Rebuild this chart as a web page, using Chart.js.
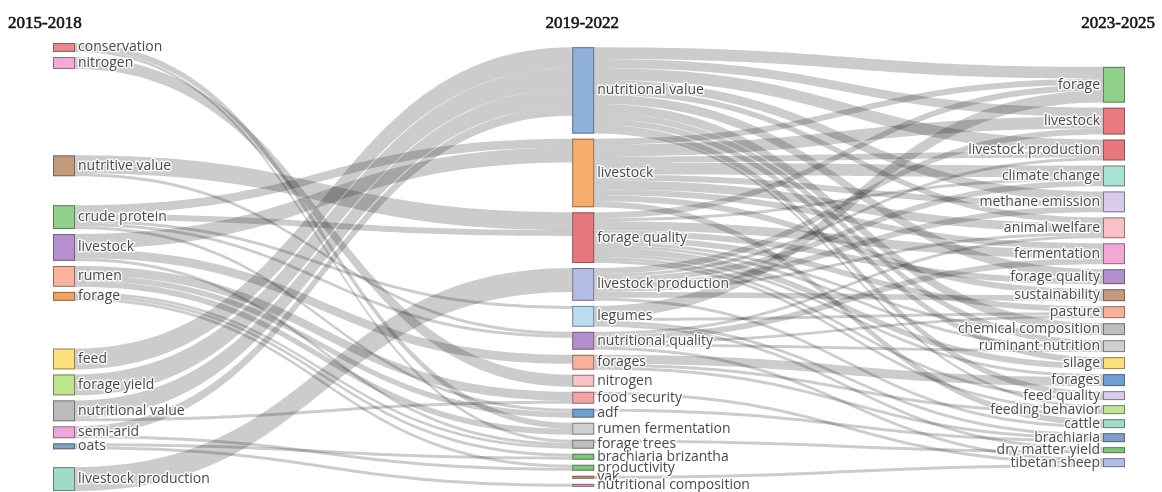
<!DOCTYPE html>
<html>
<head>
<meta charset="utf-8">
<script src="https://cdn.jsdelivr.net/npm/chart.js@4"></script>
<style>
  body { margin: 0; background: #fff; }
  #wrap { width: 1162px; height: 492px; }
</style>
</head>
<body>
<div id="wrap"><canvas id="c" width="1162" height="492"></canvas></div>
<script>
// periods (column headers)
const periods = ['2015-2018', '2019-2022', '2023-2025'];

// keywords per period, top to bottom
const nodes2015 = ['conservation', 'nitrogen', 'nutritive value', 'crude protein', 'livestock', 'rumen', 'forage',
  'feed', 'forage yield', 'nutritional value', 'semi-arid', 'oats', 'livestock production'];
const nodes2019 = ['nutritional value', 'livestock', 'forage quality', 'livestock production', 'legumes',
  'nutritional quality', 'forages', 'nitrogen', 'food security', 'adf', 'rumen fermentation', 'forage trees',
  'brachiaria brizantha', 'productivity', 'yak', 'nutritional composition'];
const nodes2023 = ['forage', 'livestock', 'livestock production', 'climate change', 'methane emission',
  'animal welfare', 'fermentation', 'forage quality', 'sustainability', 'pasture', 'chemical composition',
  'ruminant nutrition', 'silage', 'forages', 'feed quality', 'feeding behavior', 'cattle', 'brachiaria',
  'dry matter yield', 'tibetan sheep'];

// flows 2015-2018 -> 2019-2022  [from, to, value]
const flowsA = [
  ['conservation', 'rumen fermentation', 2], ['conservation', 'forage trees', 1],
  ['nitrogen', 'nitrogen', 4],
  ['nutritive value', 'forage quality', 6], ['nutritive value', 'nutritional quality', 1],
  ['crude protein', 'livestock', 3], ['crude protein', 'forage quality', 2], ['crude protein', 'nutritional quality', 1],
  ['crude protein', 'legumes', 1], ['crude protein', 'adf', 1],
  ['livestock', 'livestock', 5], ['livestock', 'forages', 3], ['livestock', 'forage trees', 1],
  ['rumen', 'rumen fermentation', 2], ['rumen', 'adf', 2], ['rumen', 'food security', 3],
  ['forage', 'brachiaria brizantha', 1], ['forage', 'productivity', 1], ['forage', 'forage trees', 1],
  ['feed', 'nutritional value', 7],
  ['forage yield', 'nutritional value', 7],
  ['nutritional value', 'nutritional value', 6], ['nutritional value', 'food security', 1],
  ['semi-arid', 'nutritional value', 3], ['semi-arid', 'productivity', 1],
  ['oats', 'brachiaria brizantha', 1], ['oats', 'nutritional composition', 1],
  ['livestock production', 'livestock production', 8]
];

// flows 2019-2022 -> 2023-2025
const flowsB = [
  ['nutritional value', 'forage', 4], ['nutritional value', 'livestock', 3], ['nutritional value', 'livestock production', 4],
  ['nutritional value', 'methane emission', 3], ['nutritional value', 'animal welfare', 2], ['nutritional value', 'forage quality', 3],
  ['nutritional value', 'chemical composition', 3], ['nutritional value', 'ruminant nutrition', 2], ['nutritional value', 'silage', 2],
  ['nutritional value', 'feed quality', 2], ['nutritional value', 'feeding behavior', 1],
  ['livestock', 'forage', 2], ['livestock', 'livestock', 4], ['livestock', 'livestock production', 2], ['livestock', 'climate change', 4],
  ['livestock', 'methane emission', 2], ['livestock', 'animal welfare', 3], ['livestock', 'fermentation', 2],
  ['livestock', 'sustainability', 2], ['livestock', 'cattle', 2],
  ['forage quality', 'forage', 2], ['forage quality', 'climate change', 1], ['forage quality', 'fermentation', 3],
  ['forage quality', 'forage quality', 2], ['forage quality', 'pasture', 2], ['forage quality', 'silage', 2],
  ['forage quality', 'forages', 1], ['forage quality', 'feed quality', 1], ['forage quality', 'feeding behavior', 1],
  ['forage quality', 'chemical composition', 1], ['forage quality', 'ruminant nutrition', 1],
  ['livestock production', 'livestock', 2], ['livestock production', 'livestock production', 1], ['livestock production', 'climate change', 2],
  ['livestock production', 'methane emission', 2], ['livestock production', 'sustainability', 2], ['livestock production', 'cattle', 1],
  ['livestock production', 'animal welfare', 1],
  ['legumes', 'forage', 4], ['legumes', 'pasture', 1], ['legumes', 'dry matter yield', 1], ['legumes', 'brachiaria', 1],
  ['nutritional quality', 'animal welfare', 1], ['nutritional quality', 'fermentation', 2], ['nutritional quality', 'ruminant nutrition', 1],
  ['nutritional quality', 'pasture', 1], ['nutritional quality', 'tibetan sheep', 1],
  ['forages', 'forages', 3], ['forages', 'feeding behavior', 1], ['forages', 'brachiaria', 1],
  ['food security', 'tibetan sheep', 1],
  ['adf', 'brachiaria', 1],
  ['forage trees', 'dry matter yield', 1],
  ['yak', 'tibetan sheep', 1]
];

// styling / layout
const colors2015 = ['#e8898e', '#f5a9d6', '#c39a7c', '#8fd18b', '#b68fd0', '#f9b29b', '#f7a15a', '#fde07c', '#bde68c',
  '#bcbcbc', '#f0a6d8', '#7f9fc9', '#9fdbc7'];
const colors2019 = ['#8fb0d9', '#f9ad6d', '#e8777c', '#b3bde6', '#bcdcf2', '#b48fd0', '#f9b09a', '#f9c2c6', '#f4a4a4',
  '#6f9fd2', '#d0d0d0', '#bdbdbd', '#7dc67a', '#7dc67a', '#c49a7e', '#e89ad0'];
const colors2023 = ['#8fd18b', '#ea7a80', '#e8777c', '#a9e1d3', '#d9cbec', '#fbc0c5', '#f4a6d7', '#b48fd0', '#c49a7e',
  '#f9b09a', '#bdbdbd', '#d0d0d0', '#fde07c', '#6f9fd2', '#d9cbec', '#c3e59a', '#9fdbc7', '#7f9fc9', '#7dc67a', '#b3bde6'];
const leftSpacing = [0, 0, 27.3, 8, 0, 0, 0, 14.3, 0, 0, 0, 0, 4.3]; // extra room above left nodes
const colX = [0, 0.989, 2];
const nodePad = 1.7;
const nodeW = 22;

// build nodes
const cols = [nodes2015, nodes2019, nodes2023].map((names, c) =>
  names.map((name, i) => ({ name, col: c, inV: 0, outV: 0, ins: [], outs: [],
    color: [colors2015, colors2019, colors2023][c][i] })));
const find = (c, name) => cols[c].find(n => n.name === name);
const links = [];
[flowsA, flowsB].forEach((fl, c) => fl.forEach(([s, t, v]) => {
  const l = { source: find(c, s), target: find(c + 1, t), value: v };
  l.source.outV += v; l.target.inV += v;
  l.source.outs.push(l); l.target.ins.push(l);
  links.push(l);
}));
cols.forEach(col => col.forEach(n => { n.value = Math.max(n.inV, n.outV); }));

// stack each column, left column with its own spacing, others centred
const spans = cols.map((col, c) => col.reduce((s, n, i) =>
  s + n.value + (i ? nodePad : 0) + (c === 0 ? leftSpacing[i] : 0), 0));
const yMax = Math.max(...spans);
cols.forEach((col, c) => {
  let y = c === 0 ? 0 : (yMax - spans[c]) / 2;
  col.forEach((n, i) => {
    if (i) y += nodePad;
    if (c === 0) y += leftSpacing[i];
    n.y0 = y; n.y1 = y + n.value; y = n.y1;
  });
});
cols.forEach(col => col.forEach(n => {
  let y = n.y0;
  n.outs.sort((a, b) => a.target.y0 - b.target.y0).forEach(l => { l.sy = y; y += l.value; });
  y = n.y0;
  n.ins.sort((a, b) => a.source.y0 - b.source.y0).forEach(l => { l.ty = y; y += l.value; });
}));

const sankeyPlugin = {
  id: 'sankeyDraw',
  afterDraw(chart) {
    const { ctx } = chart;
    const xs = chart.scales.x, ys = chart.scales.y;
    const py = v => ys.getPixelForValue(v);
    const cx = c => xs.getPixelForValue(colX[c]);
    ctx.save();
    // links
    ctx.fillStyle = 'rgba(0,0,0,0.2)';
    links.forEach(l => {
      const x0 = cx(l.source.col) + nodeW / 2;
      const x1 = cx(l.target.col) - nodeW / 2;
      const xm = (x0 + x1) / 2;
      const a0 = py(l.sy), a1 = py(l.sy + l.value), b0 = py(l.ty), b1 = py(l.ty + l.value);
      ctx.beginPath();
      ctx.moveTo(x0, a0);
      ctx.bezierCurveTo(xm, a0, xm, b0, x1, b0);
      ctx.lineTo(x1, b1);
      ctx.bezierCurveTo(xm, b1, xm, a1, x0, a1);
      ctx.closePath();
      ctx.fill();
    });
    // nodes
    cols.forEach(col => col.forEach(n => {
      const x = cx(n.col) - nodeW / 2;
      const top = py(n.y0), h = py(n.y1) - top;
      ctx.fillStyle = n.color;
      ctx.fillRect(x, top, nodeW, h);
      ctx.strokeStyle = 'rgba(68,68,68,0.6)';
      ctx.lineWidth = 1;
      ctx.strokeRect(x + 0.5, top + 0.5, nodeW - 1, Math.max(h - 1, 0.5));
    }));
    // labels
    ctx.font = '14px "Open Sans", sans-serif';
    ctx.textBaseline = 'middle';
    ctx.lineJoin = 'round';
    cols.forEach(col => col.forEach(n => {
      const right = n.col === 2;
      const x = right ? cx(n.col) - nodeW / 2 - 3 : cx(n.col) + nodeW / 2 + 3;
      const y = py((n.y0 + n.y1) / 2);
      ctx.textAlign = right ? 'right' : 'left';
      ctx.strokeStyle = 'rgba(255,255,255,0.85)';
      ctx.lineWidth = 3;
      ctx.strokeText(n.name, x, y);
      ctx.fillStyle = '#4a4a4a';
      ctx.fillText(n.name, x, y);
    }));
    // period headers
    ctx.font = '17px "Liberation Serif", "Times New Roman", serif';
    ctx.fillStyle = '#151515';
    ctx.strokeStyle = '#151515';
    ctx.lineWidth = 0.6;
    ctx.textBaseline = 'alphabetic';
    const hy = 28;
    const head = (t, x) => { ctx.fillText(t, x, hy); ctx.strokeText(t, x, hy); };
    ctx.textAlign = 'left';
    head(periods[0], 8);
    ctx.textAlign = 'center';
    head(periods[1], cx(1) - 1);
    ctx.textAlign = 'right';
    head(periods[2], 1155);
    ctx.restore();
  }
};

new Chart(document.getElementById('c'), {
  type: 'scatter',
  data: { datasets: [] },
  options: {
    responsive: false,
    animation: false,
    layout: { padding: { left: 64, right: 48, top: 43, bottom: 1 } },
    plugins: { legend: { display: false }, tooltip: { enabled: false } },
    scales: {
      x: { type: 'linear', min: 0, max: 2, display: false },
      y: { type: 'linear', min: 0, max: yMax, reverse: true, display: false }
    }
  },
  plugins: [sankeyPlugin]
});
</script>
</body>
</html>
